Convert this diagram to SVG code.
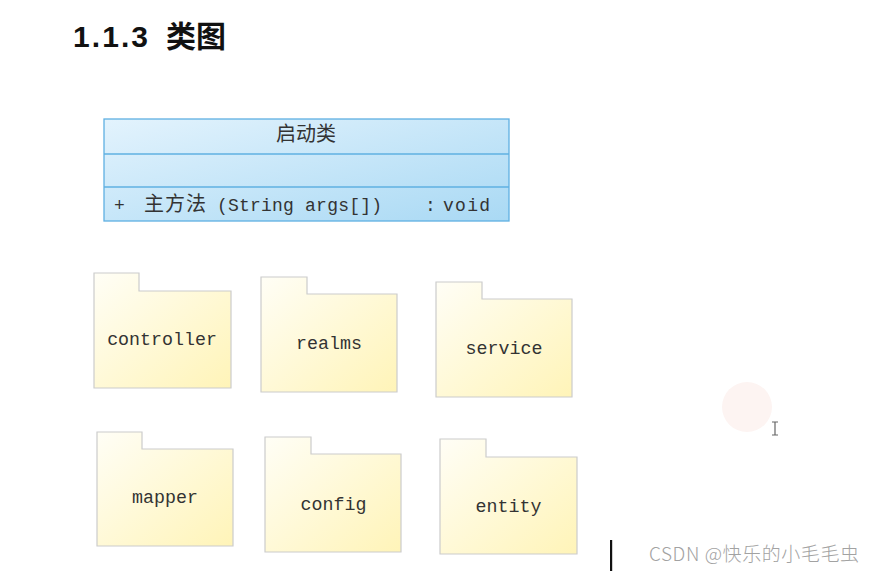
<svg xmlns="http://www.w3.org/2000/svg" width="876" height="572" viewBox="0 0 876 572">
<defs>
  <linearGradient id="blue" x1="0" y1="0" x2="1" y2="1">
    <stop offset="0" stop-color="#e3f3fd"/>
    <stop offset="1" stop-color="#a9d9f4"/>
  </linearGradient>
  <linearGradient id="yellow" x1="0" y1="0" x2="1" y2="1">
    <stop offset="0" stop-color="#fffef6"/>
    <stop offset="1" stop-color="#fff4b8"/>
  </linearGradient>
  <style>
    .title{font-family:"Liberation Sans","Noto Sans CJK SC",sans-serif;font-weight:bold;font-size:30px;fill:#111}
    .cls{fill:url(#blue);stroke:#5fb0e2;stroke-width:1.3}
    .sep{stroke:#5fb0e2;stroke-width:1.3}
    .cjk{font-family:"Noto Sans CJK SC",sans-serif;font-size:20px;fill:#333}
    .mono{font-family:"Liberation Mono","Noto Sans CJK SC",monospace;font-size:18px;fill:#333}
    .pkg{fill:url(#yellow);stroke:#cccccc;stroke-width:1.2}
    .lbl{font-family:"Liberation Mono",monospace;font-size:18.3px;fill:#333;text-anchor:middle}
    .wm{font-family:"Noto Sans CJK SC",sans-serif;font-size:19px;font-weight:300;fill:#a2a2a2}
  </style>
</defs>
<rect width="876" height="572" fill="#ffffff"/>

<text class="title" x="73" y="47" textLength="75">1.1.3</text>
<text class="title" x="166" y="47" font-family="Noto Sans CJK SC,sans-serif">类图</text>

<g id="class-startup">
  <rect class="cls" x="104" y="119" width="405" height="102"/>
  <line class="sep" x1="104" y1="154" x2="509" y2="154"/>
  <line class="sep" x1="104" y1="187" x2="509" y2="187"/>
  <text class="cjk" x="306" y="141" text-anchor="middle">启动类</text>
  <text class="mono" x="114" y="211">+</text>
  <text class="cjk" x="144" y="211" textLength="62">主方法</text>
  <text class="mono" x="217" y="211" textLength="165">(String args[])</text>
  <text class="mono" x="425" y="211">:</text>
  <text class="mono" x="443" y="211" textLength="47">void</text>
</g>

<g id="pkg-controller">
  <path class="pkg" d="M94,273 H139 V291 H231 V388 H94 Z"/>
  <text class="lbl" x="162" y="345">controller</text>
</g>
<g id="pkg-realms">
  <path class="pkg" d="M261,277 H307 V294 H397 V392 H261 Z"/>
  <text class="lbl" x="329" y="349">realms</text>
</g>
<g id="pkg-service">
  <path class="pkg" d="M436,282 H482 V299 H572 V397 H436 Z"/>
  <text class="lbl" x="504" y="354">service</text>
</g>
<g id="pkg-mapper">
  <path class="pkg" d="M97,432 H142 V449 H233 V546 H97 Z"/>
  <text class="lbl" x="165" y="503">mapper</text>
</g>
<g id="pkg-config">
  <path class="pkg" d="M265,437 H311 V454 H401 V552 H265 Z"/>
  <text class="lbl" x="333.5" y="510">config</text>
</g>
<g id="pkg-entity">
  <path class="pkg" d="M440,439 H486 V457 H577 V554 H440 Z"/>
  <text class="lbl" x="508.5" y="512">entity</text>
</g>

<g id="connectors"></g>

<circle cx="747" cy="407" r="25" fill="#fdf4f2"/>
<path d="M772,422 H778 M775,422 V435 M772,435 H778" stroke="#666" stroke-width="1.2" fill="none"/>
<rect x="610" y="540" width="2.2" height="31" fill="#111"/>
<text class="wm" x="649" y="561" textLength="210">CSDN @快乐的小毛毛虫</text>
</svg>
